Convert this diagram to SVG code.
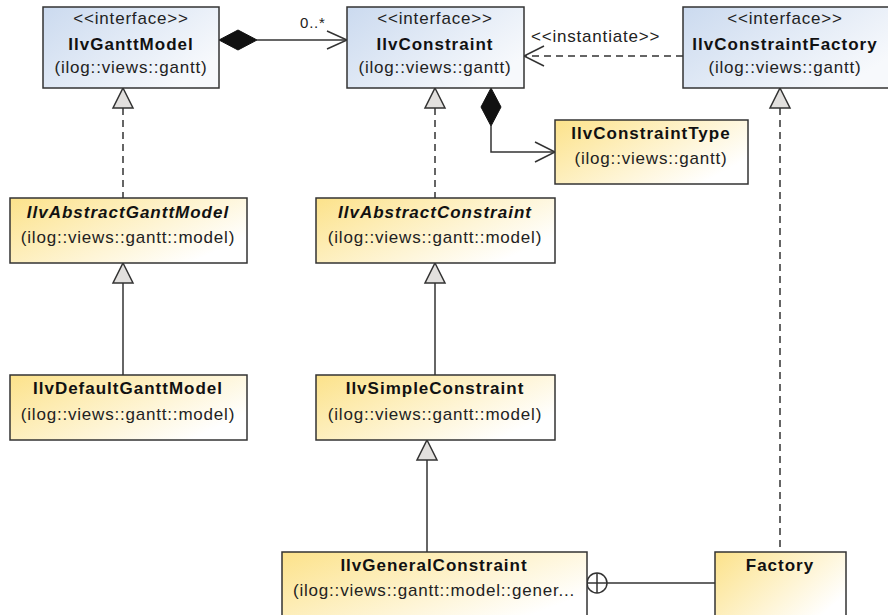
<svg xmlns="http://www.w3.org/2000/svg" width="888" height="615" viewBox="0 0 888 615">
  <defs>
    <linearGradient id="gBlue" x1="0" y1="0" x2="1" y2="0.6">
      <stop offset="0" stop-color="#cbdaef"/>
      <stop offset="1" stop-color="#f7f9fc"/>
    </linearGradient>
    <linearGradient id="gYellow" x1="0" y1="0" x2="1" y2="0.6">
      <stop offset="0" stop-color="#fce28a"/>
      <stop offset="1" stop-color="#ffffff"/>
    </linearGradient>
  </defs>
  <style>
    .box { stroke: #333333; stroke-width: 1.5; }
    .iface { fill: url(#gBlue); }
    .cls { fill: url(#gYellow); }
    text { font-family: "Liberation Sans", Arial, sans-serif; font-size: 17px; fill: #222222; letter-spacing: 0.8px; text-anchor: middle; }
    .name { font-weight: bold; fill: #111111; letter-spacing: 1px; }
    .abs { font-style: italic; }
    .lbl { text-anchor: start; }
    .mult { font-size: 15px; }
    .line { fill: none; stroke: #333333; stroke-width: 1.5; }
    .dash { stroke-dasharray: 7 5; }
    .tri { fill: #e2e0de; stroke: #333333; stroke-width: 1.5; }
    .dia { fill: #111111; stroke: #111111; stroke-width: 1; }
  </style>

  <g id="connectors">
    <!-- IlvGanttModel composes IlvConstraint -->
    <polygon class="dia" points="219,40 238,30 257,40 238,50"/>
    <line class="line" x1="257" y1="40" x2="347" y2="40"/>
    <polyline class="line" points="327,31 347,40 327,49"/>
    <text class="lbl mult" x="300" y="28">0..*</text>

    <!-- factory instantiates constraint -->
    <line class="line dash" x1="683" y1="56" x2="525" y2="56"/>
    <polyline class="line" points="544,46 524,56 544,66"/>
    <text class="lbl" x="531" y="42">&lt;&lt;instantiate&gt;&gt;</text>

    <!-- IlvConstraint composes IlvConstraintType -->
    <polygon class="dia" points="491,88 501,107 491,126 481,107"/>
    <polyline class="line" points="491,126 491,152 555,152"/>
    <polyline class="line" points="535,142 555,152 535,162"/>

    <!-- realizations -->
    <line class="line dash" x1="123" y1="108" x2="123" y2="198"/>
    <polygon class="tri" points="123,88 133,108 113,108"/>
    <line class="line dash" x1="435" y1="108" x2="435" y2="198"/>
    <polygon class="tri" points="435,88 445,108 425,108"/>
    <line class="line dash" x1="780" y1="108" x2="780" y2="552"/>
    <polygon class="tri" points="780,88 790,108 770,108"/>

    <!-- generalizations -->
    <line class="line" x1="123" y1="283" x2="123" y2="375"/>
    <polygon class="tri" points="123,263 133,283 113,283"/>
    <line class="line" x1="435" y1="283" x2="435" y2="375"/>
    <polygon class="tri" points="435,263 445,283 425,283"/>
    <line class="line" x1="427" y1="460" x2="427" y2="552"/>
    <polygon class="tri" points="427,440 437,460 417,460"/>

    <!-- nested class -->
    <circle class="line" cx="597" cy="583" r="10"/>
    <line class="line" x1="587" y1="583" x2="607" y2="583"/>
    <line class="line" x1="597" y1="573" x2="597" y2="593"/>
    <line class="line" x1="607" y1="583" x2="715" y2="583"/>
  </g>

  <g id="IlvGanttModel">
    <rect class="box iface" x="43" y="7" width="176" height="81"/>
    <text x="131" y="24">&lt;&lt;interface&gt;&gt;</text>
    <text class="name" x="131" y="50">IlvGanttModel</text>
    <text x="131" y="73">(ilog::views::gantt)</text>
  </g>

  <g id="IlvConstraint">
    <rect class="box iface" x="347" y="7" width="177" height="81"/>
    <text x="435" y="24">&lt;&lt;interface&gt;&gt;</text>
    <text class="name" x="435" y="50">IlvConstraint</text>
    <text x="435" y="73">(ilog::views::gantt)</text>
  </g>

  <g id="IlvConstraintFactory">
    <rect class="box iface" x="683" y="7" width="210" height="81"/>
    <text x="785" y="24">&lt;&lt;interface&gt;&gt;</text>
    <text class="name" x="785" y="50">IlvConstraintFactory</text>
    <text x="785" y="73">(ilog::views::gantt)</text>
  </g>

  <g id="IlvConstraintType">
    <rect class="box cls" x="555" y="120" width="193" height="64"/>
    <text class="name" x="651" y="139">IlvConstraintType</text>
    <text x="651" y="164">(ilog::views::gantt)</text>
  </g>

  <g id="IlvAbstractGanttModel">
    <rect class="box cls" x="10" y="198" width="237" height="65"/>
    <text class="name abs" x="128" y="218">IlvAbstractGanttModel</text>
    <text x="128" y="243">(ilog::views::gantt::model)</text>
  </g>

  <g id="IlvAbstractConstraint">
    <rect class="box cls" x="316" y="198" width="239" height="65"/>
    <text class="name abs" x="435" y="218">IlvAbstractConstraint</text>
    <text x="435" y="243">(ilog::views::gantt::model)</text>
  </g>

  <g id="IlvDefaultGanttModel">
    <rect class="box cls" x="10" y="375" width="237" height="65"/>
    <text class="name" x="128" y="394">IlvDefaultGanttModel</text>
    <text x="128" y="420">(ilog::views::gantt::model)</text>
  </g>

  <g id="IlvSimpleConstraint">
    <rect class="box cls" x="316" y="375" width="239" height="65"/>
    <text class="name" x="435" y="394">IlvSimpleConstraint</text>
    <text x="435" y="420">(ilog::views::gantt::model)</text>
  </g>

  <g id="IlvGeneralConstraint">
    <rect class="box cls" x="282" y="552" width="305" height="70"/>
    <text class="name" x="434" y="571">IlvGeneralConstraint</text>
    <text x="434" y="596">(ilog::views::gantt::model::gener...</text>
  </g>

  <g id="Factory">
    <rect class="box cls" x="715" y="552" width="131" height="70"/>
    <text class="name" x="780" y="571">Factory</text>
  </g>
</svg>
